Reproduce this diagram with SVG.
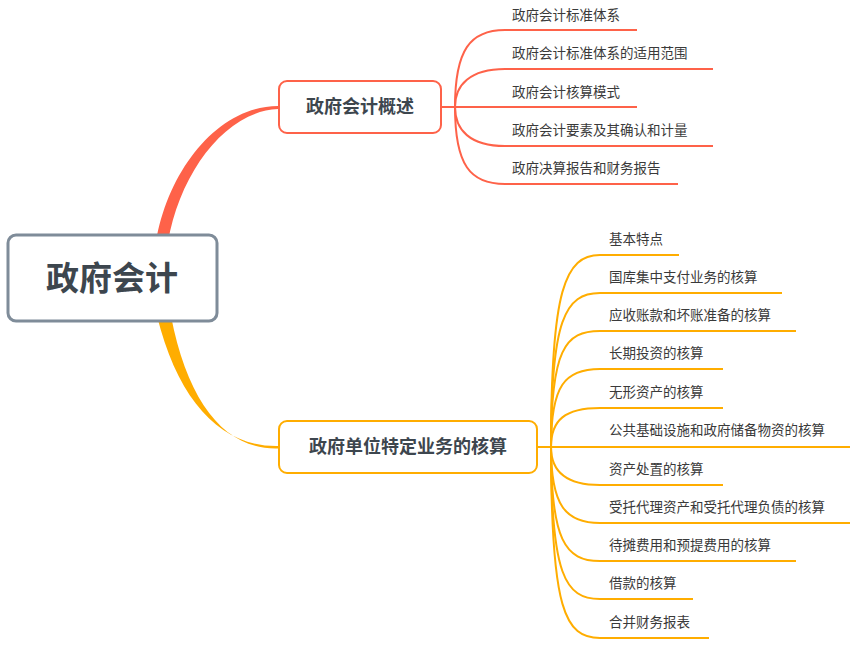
<svg xmlns="http://www.w3.org/2000/svg" width="857" height="645" viewBox="0 0 857 645">
<style>
.t{font-family:"Noto Sans CJK SC","Liberation Sans",sans-serif;font-size:13.5px;fill:#3a3a3a}
.b{font-family:"Noto Sans CJK SC","Liberation Sans",sans-serif;font-weight:bold;fill:#3d464e;text-anchor:middle}
.r{fill:none;stroke:#fe6249;stroke-width:2}
.o{fill:none;stroke:#ffad00;stroke-width:2}
</style>
<rect width="857" height="645" fill="#fff"/>
<g id="connectors">
<path d="M156,242 C168,170 218,106 278,106 L278,109 C226,111 180,172 168,242 Z" fill="#fe6249"/>
<path d="M157,316 C178,400 220,447 278,446 L278,448.5 C226,450 188,404 171,316 Z" fill="#ffad00"/>
<g class="r">
<path d="M441,107 H455"/>
<path d="M455,107 C455,50 470,30 505,30 H637"/>
<path d="M455,107 C455,85 470,69 505,69 H713"/>
<path d="M455,107 H637"/>
<path d="M455,107 C455,130 470,146 505,146 H713"/>
<path d="M455,107 C455,165 470,184 505,184 H678"/>
</g>
<g class="o">
<path d="M537,447 H551"/>
<path d="M551,447 C551,290 565,255 600,255 H679"/>
<path d="M551,447 C551,320 565,293 600,293 H782"/>
<path d="M551,447 C551,350 565,331 600,331 H796"/>
<path d="M551,447 C551,385 565,369 600,369 H723"/>
<path d="M551,447 C551,420 565,408 600,408 H723"/>
<path d="M551,447 H850"/>
<path d="M551,447 C551,470 565,485 600,485 H723"/>
<path d="M551,447 C551,505 565,523 600,523 H850"/>
<path d="M551,447 C551,540 565,561 600,561 H796"/>
<path d="M551,447 C551,575 565,599 600,599 H693"/>
<path d="M551,447 C551,610 565,638 600,638 H709"/>
</g>
</g>
<g id="root">
<rect x="8" y="235" width="209" height="86" rx="8" fill="#fff" stroke="#7f8c99" stroke-width="3"/>
<text class="b" x="112" y="290" font-size="33">政府会计</text>
</g>
<g id="n1">
<rect x="279" y="81" width="162" height="52" rx="8" fill="#fff" stroke="#fe6249" stroke-width="2"/>
<text class="b" x="360" y="113" font-size="18">政府会计概述</text>
</g>
<g id="n2">
<rect x="279" y="421" width="258" height="52" rx="8" fill="#fff" stroke="#ffad00" stroke-width="2"/>
<text class="b" x="408" y="453" font-size="18">政府单位特定业务的核算</text>
</g>
<g id="c1">
<text class="t" x="512" y="20">政府会计标准体系</text>
<text class="t" x="512" y="58">政府会计标准体系的适用范围</text>
<text class="t" x="512" y="97">政府会计核算模式</text>
<text class="t" x="512" y="135">政府会计要素及其确认和计量</text>
<text class="t" x="512" y="173">政府决算报告和财务报告</text>
</g>
<g id="c2">
<text class="t" x="609" y="244">基本特点</text>
<text class="t" x="609" y="282">国库集中支付业务的核算</text>
<text class="t" x="609" y="320">应收账款和坏账准备的核算</text>
<text class="t" x="609" y="358">长期投资的核算</text>
<text class="t" x="609" y="397">无形资产的核算</text>
<text class="t" x="609" y="435">公共基础设施和政府储备物资的核算</text>
<text class="t" x="609" y="474">资产处置的核算</text>
<text class="t" x="609" y="512">受托代理资产和受托代理负债的核算</text>
<text class="t" x="609" y="550">待摊费用和预提费用的核算</text>
<text class="t" x="609" y="588">借款的核算</text>
<text class="t" x="609" y="627">合并财务报表</text>
</g>
</svg>
